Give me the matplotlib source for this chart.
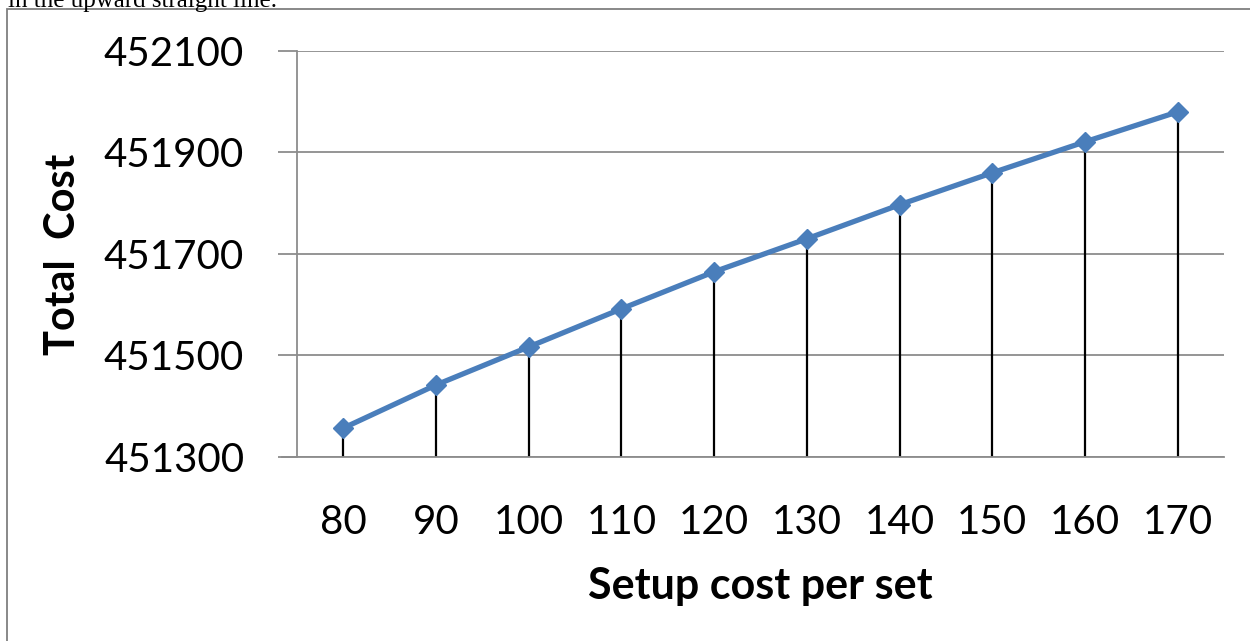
import matplotlib
matplotlib.use('Agg')
import matplotlib.pyplot as plt
from matplotlib.patches import Rectangle

# setup cost per set vs total cost
setup_cost = ['80', '90', '100', '110', '120', '130', '140', '150', '160', '170']
total_cost = [451357, 451442, 451517, 451592, 451665, 451730, 451797, 451860, 451921, 451980]
y_ticks = [451300, 451500, 451700, 451900, 452100]

W, H = 1250, 641
fig = plt.figure(figsize=(W / 100, H / 100), dpi=100)
ax = fig.add_axes([297 / W, 1 - 457 / H, (1224 - 297) / W, (457 - 51) / H])

xs = list(range(len(setup_cost)))

# drop lines from each point to the axis
ax.vlines(xs, y_ticks[0], total_cost, color='black', lw=1.6, zorder=2)
ax.plot(xs, total_cost, color='#4A7EBB', lw=3.8, marker='D', markersize=10,
        markerfacecolor='#4A7EBB', markeredgecolor='#4A7EBB', zorder=3)

ax.set_xlim(-0.5, len(xs) - 0.5)
ax.set_ylim(y_ticks[0], y_ticks[-1])
ax.set_yticks(y_ticks)
ax.set_xticks(xs)
ax.set_xticklabels(setup_cost)
ax.grid(axis='y', color='#8c8c8c', lw=1.3)
ax.set_axisbelow(True)

for s in ['top', 'right']:
    ax.spines[s].set_visible(False)
for s in ['left', 'bottom']:
    ax.spines[s].set_color('#8c8c8c')
    ax.spines[s].set_linewidth(1.3)
ax.spines['bottom'].set_bounds(-0.5 - 15 / 92.67, len(xs) - 0.5)

ax.tick_params(axis='y', length=14, width=1.3, color='#8c8c8c', pad=24, labelsize=29)
ax.tick_params(axis='x', length=0, pad=34, labelsize=29)
for lab in ax.get_xticklabels() + ax.get_yticklabels():
    lab.set_fontfamily('Lato')

ax.set_xlabel('Setup cost per set', fontsize=31, fontweight='bold', family='Lato', labelpad=18)
ax.set_ylabel('Total  Cost', fontsize=30, fontweight='bold', family='Lato', labelpad=16)

# frame around the chart, running off the right and bottom
fig.patches.append(Rectangle((7 / W, -0.1), 1.2, 1 - 9 / H + 0.1, transform=fig.transFigure,
                             fill=False, edgecolor='#7f7f7f', lw=1.3, clip_on=False))

# cut-off line of body text above the chart
fig.text(8 / W, 1 - 7 / H, 'in the upward straight line.', family='Liberation Serif',
         fontsize=18, va='baseline', ha='left')

fig.savefig('out.png', dpi=100)
